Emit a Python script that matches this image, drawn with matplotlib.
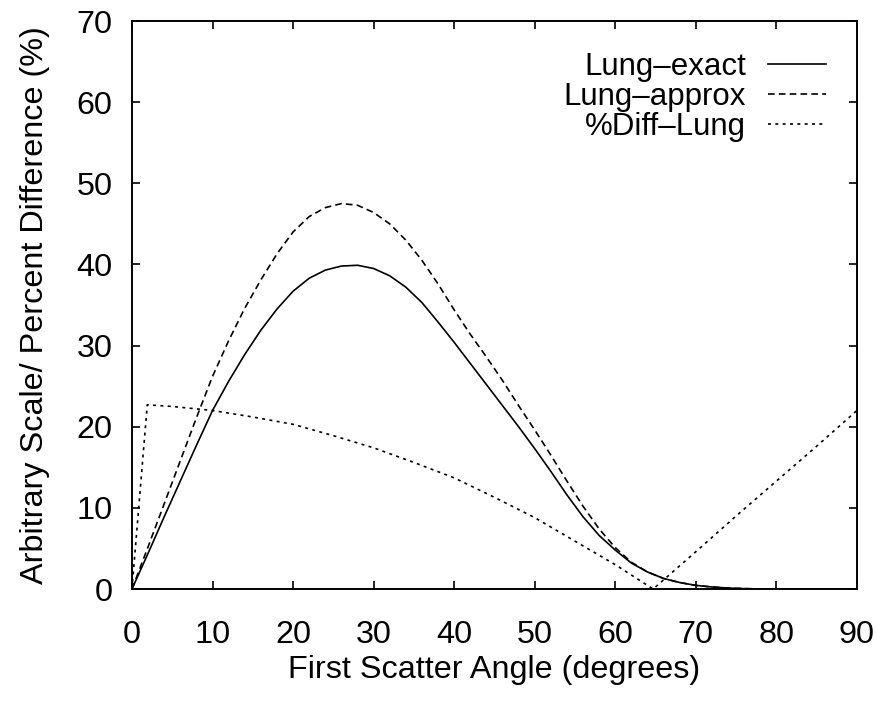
import numpy as np
import matplotlib
matplotlib.use("Agg")
import matplotlib.pyplot as plt

plt.rcParams['font.family'] = ['Liberation Sans', 'DejaVu Sans']

# angles (degrees) and curve values
angle = [0, 2, 4, 6, 8, 10, 12, 14, 16, 18, 20, 22, 24, 26, 28, 30, 32, 34,
         36, 38, 40, 42, 44, 46, 48, 50, 52, 54, 56, 58, 60, 62, 64, 66, 68,
         70, 72, 74, 76, 78, 80, 85, 90]
lung_exact = [0, 4.4, 8.9, 13.3, 17.7, 22.0, 25.6, 28.9, 31.9, 34.5, 36.7,
              38.3, 39.3, 39.8, 39.9, 39.5, 38.6, 37.2, 35.3, 32.9, 30.4,
              27.8, 25.2, 22.6, 20.0, 17.3, 14.5, 11.6, 8.9, 6.6, 4.8, 3.2,
              2.1, 1.3, 0.8, 0.45, 0.25, 0.12, 0.05, 0.01, 0, 0, 0]
lung_approx = [0, 5.2, 10.5, 15.8, 21.1, 26.2, 30.6, 34.6, 38.1, 41.3, 44.0,
               45.9, 47.0, 47.5, 47.3, 46.4, 45.0, 43.0, 40.5, 37.6, 34.4,
               31.4, 28.6, 25.7, 22.6, 19.6, 16.5, 13.3, 10.2, 7.4, 5.1, 3.3,
               2.1, 1.3, 0.8, 0.45, 0.25, 0.12, 0.05, 0.01, 0, 0, 0]

diff_angle = [0, 1.9, 5, 10, 15, 20, 25, 30, 35, 40, 45, 50, 55, 60, 64.7,
              70, 75, 80, 85, 90]
diff_lung = [0, 22.7, 22.5, 22.0, 21.2, 20.3, 18.9, 17.4, 15.6, 13.7, 11.3,
             8.8, 5.9, 3.0, 0, 4.6, 9.0, 13.3, 17.6, 22.0]

xticks = np.arange(0, 91, 10)
yticks = np.arange(0, 71, 10)

fs = 23.3

fig = plt.figure(figsize=(8.78, 7.05), dpi=100)
ax = fig.add_axes([0.1503, 0.1645, 0.8257, 0.8057])

ax.plot(angle, lung_exact, color='black', lw=1.2, label='Lung\u2013exact')
ax.plot(angle, lung_approx, color='black', lw=1.2, dashes=(4, 2.5),
        label='Lung\u2013approx')
ax.plot(diff_angle, diff_lung, color='black', lw=1.2, dashes=(1.8, 2.6),
        label='%Diff\u2013Lung')

ax.set_xlim(0, 90)
ax.set_ylim(0, 70)
ax.set_xticks(xticks)
ax.set_yticks(yticks)
ax.tick_params(direction='in', length=6, width=1.2, top=True, right=True,
               labelsize=fs)
ax.tick_params(axis='x', pad=22)
ax.tick_params(axis='y', pad=14)
for s in ax.spines.values():
    s.set_linewidth(1.4)

ax.set_xlabel('First Scatter Angle (degrees)', fontsize=fs, labelpad=4)
ax.set_ylabel('Arbitrary Scale/ Percent Difference (%)', fontsize=fs,
              labelpad=19)

ax.legend(loc='upper right', frameon=False, markerfirst=False, fontsize=22.5,
          handlelength=1.85, handletextpad=0.7, labelspacing=0.0,
          borderaxespad=0.5, borderpad=0.5)

fig.savefig('out.png', dpi=100)
